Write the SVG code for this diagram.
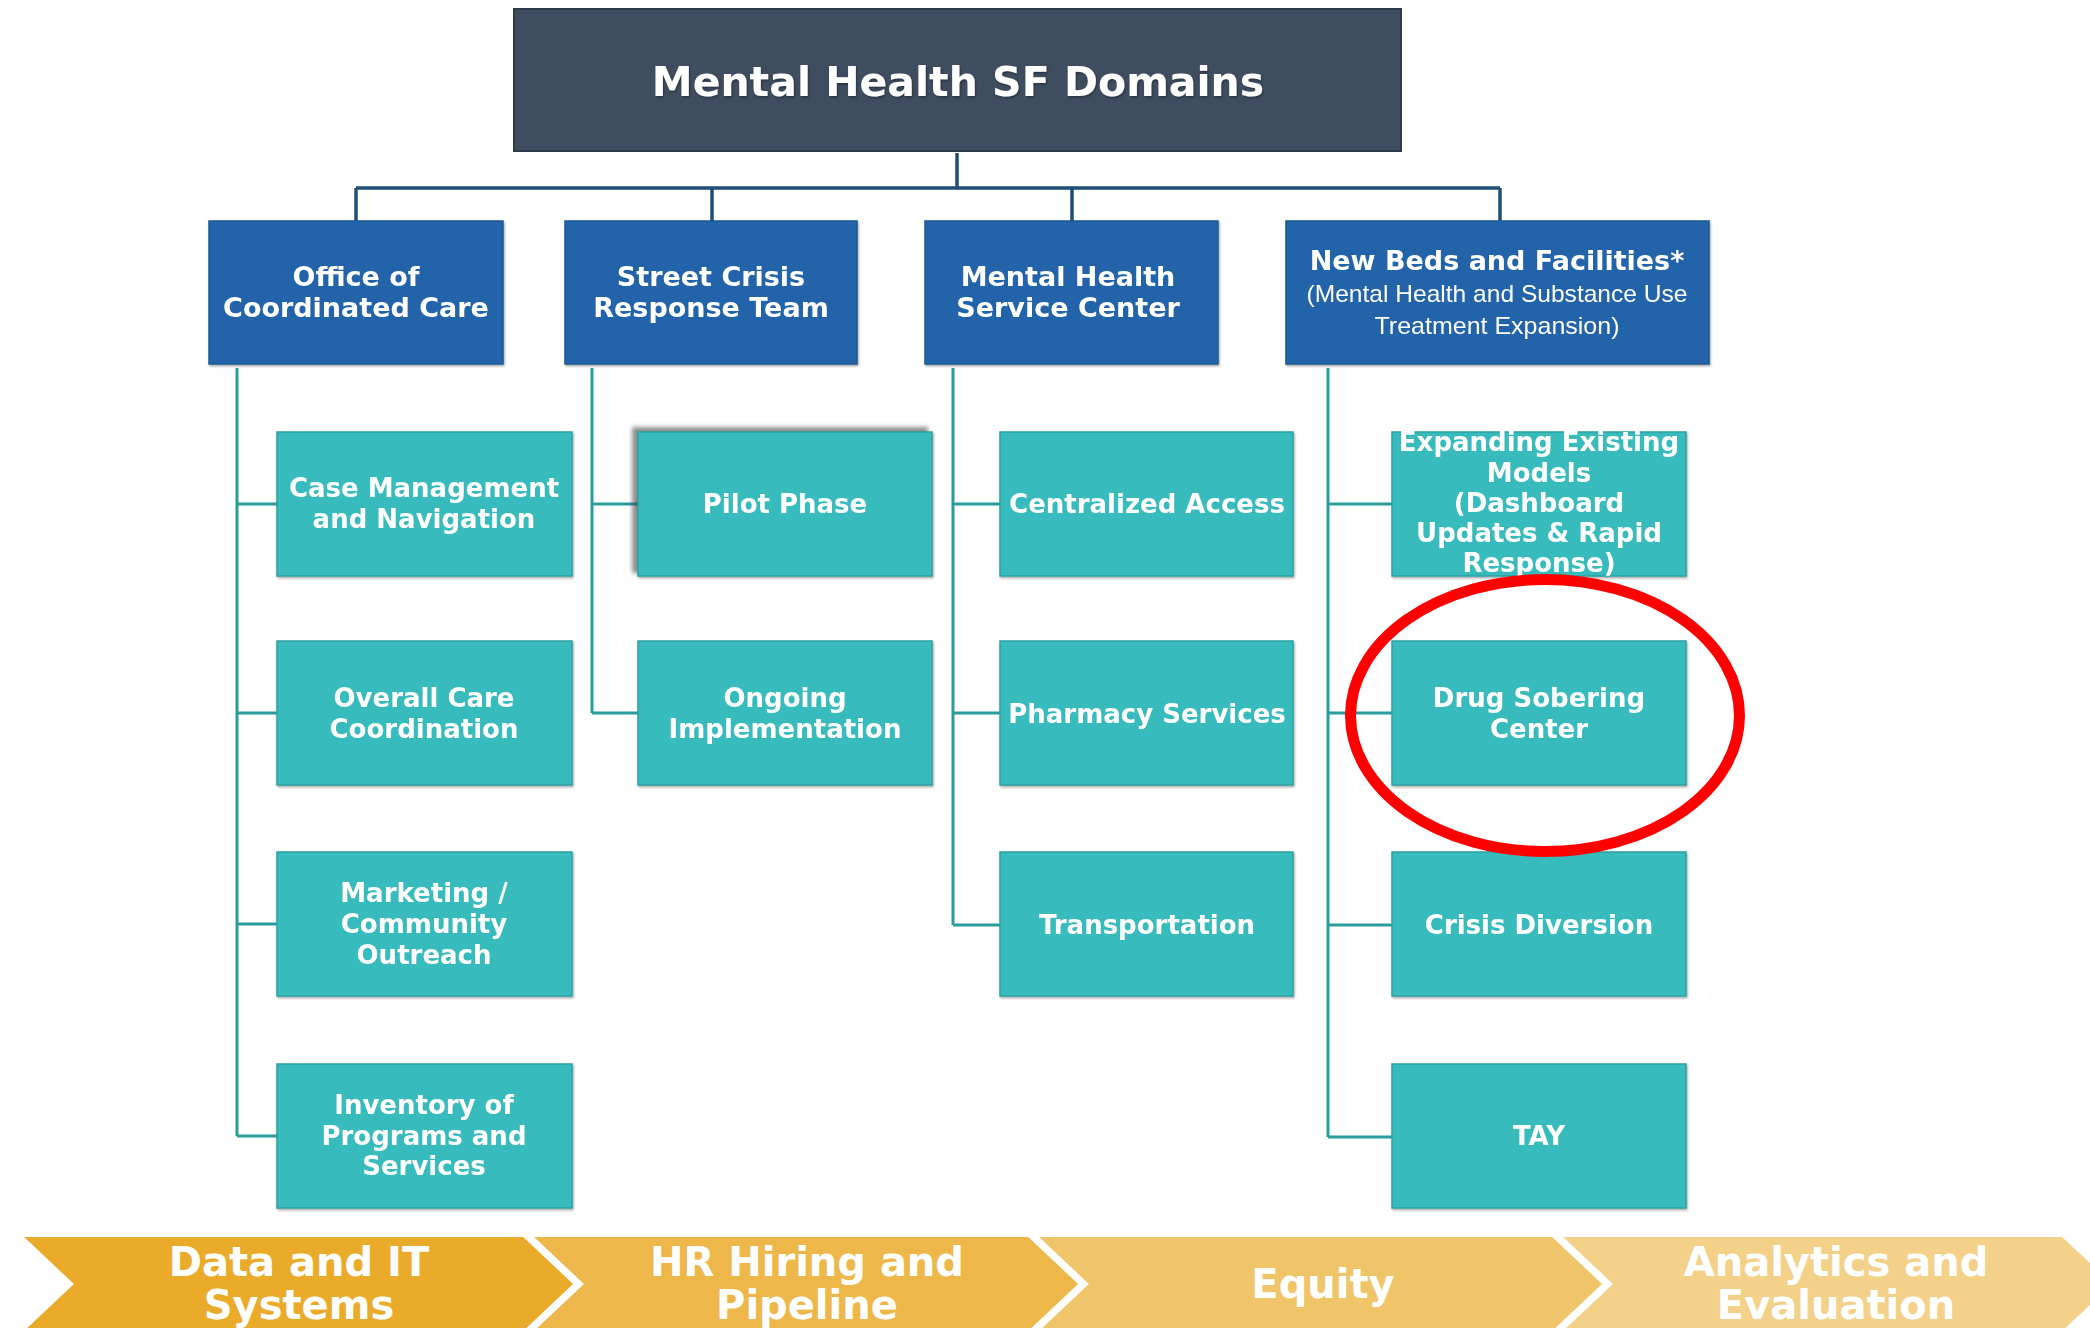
<svg xmlns="http://www.w3.org/2000/svg" width="2090" height="1328" viewBox="0 0 2090 1328">
<defs>
<style>
.tx{font-family:"DejaVu Sans",Verdana,sans-serif;font-weight:bold;fill:#ffffff;text-anchor:middle}
.t1{font-size:41px}
.t2{font-size:27px}
.t3{font-size:26px}
.tc{font-size:40px}
.sub{font-family:"Liberation Sans",Arial,sans-serif;font-size:24px;fill:#ffffff;text-anchor:middle}
.l2 rect{fill:#2064a9;stroke:#1b5893;stroke-width:1.5}
.l3 rect{fill:#38bbbc;stroke:#2da2a3;stroke-width:1.5}
.navy{stroke:#1f4e79;stroke-width:3.5;fill:none}
.teal{stroke:#2a9c9b;stroke-width:3;fill:none}
.chev{stroke:#ffffff;stroke-width:4}
</style>
<filter id="ts" x="-10%" y="-30%" width="120%" height="160%">
<feDropShadow dx="1" dy="1.5" stdDeviation="1" flood-color="#000000" flood-opacity="0.35"/>
</filter>
<filter id="bl" x="-10%" y="-10%" width="120%" height="120%">
<feGaussianBlur stdDeviation="2"/>
</filter>
</defs>
<rect width="2090" height="1328" fill="#ffffff"/>

<g id="connectors">
<path class="navy" d="M957 153V188M356 188H1500M356 188V221M712 188V221M1072 188V221M1500 188V221"/>
<path class="teal" d="M237 368V1136M237 504H277M237 713H277M237 924H277M237 1136H277"/>
<path class="teal" d="M592 368V713M592 504H638M592 713H638"/>
<path class="teal" d="M953 368V925M953 504H1000M953 713H1000M953 925H1000"/>
<path class="teal" d="M1328 368V1137M1328 504H1392M1328 713H1392M1328 925H1392M1328 1137H1392"/>
</g>

<g id="n-title">
<rect x="514" y="9" width="887" height="142" fill="#3e4d5f" stroke="#2c3845" stroke-width="2"/>
<text class="tx t1" x="958" y="96" filter="url(#ts)">Mental Health SF Domains</text>
</g>

<g class="l2" filter="url(#ts)">
<g id="n-occ"><rect x="209" y="221" width="294" height="143"/>
<text class="tx t2" x="356" y="286">Office of</text><text class="tx t2" x="356" y="317">Coordinated Care</text></g>
<g id="n-scrt"><rect x="565" y="221" width="292" height="143"/>
<text class="tx t2" x="711" y="286">Street Crisis</text><text class="tx t2" x="711" y="317">Response Team</text></g>
<g id="n-mhsc"><rect x="925" y="221" width="293" height="143"/>
<text class="tx t2" x="1068" y="286">Mental Health</text><text class="tx t2" x="1068" y="317">Service Center</text></g>
<g id="n-beds"><rect x="1286" y="221" width="423" height="143"/>
<text class="tx t2" x="1497" y="270">New Beds and Facilities*</text>
<text class="sub" x="1497" y="302" textLength="381" lengthAdjust="spacingAndGlyphs">(Mental Health and Substance Use</text>
<text class="sub" x="1497" y="334" textLength="245" lengthAdjust="spacingAndGlyphs">Treatment Expansion)</text></g>
</g>

<rect x="632" y="427" width="296" height="146" fill="#444" opacity="0.6" filter="url(#bl)"/>

<g class="l3" filter="url(#ts)">
<g id="n-case"><rect x="277" y="432" width="295" height="144"/>
<text class="tx t3" x="424" y="497">Case Management</text><text class="tx t3" x="424" y="528">and Navigation</text></g>
<g id="n-overall"><rect x="277" y="641" width="295" height="144"/>
<text class="tx t3" x="424" y="707">Overall  Care</text><text class="tx t3" x="424" y="738">Coordination</text></g>
<g id="n-marketing"><rect x="277" y="852" width="295" height="144"/>
<text class="tx t3" x="424" y="902">Marketing  /</text><text class="tx t3" x="424" y="933">Community</text><text class="tx t3" x="424" y="964">Outreach</text></g>
<g id="n-inventory"><rect x="277" y="1064" width="295" height="144"/>
<text class="tx t3" x="424" y="1114">Inventory of</text><text class="tx t3" x="424" y="1145">Programs and</text><text class="tx t3" x="424" y="1175">Services</text></g>

<g id="n-pilot"><rect x="638" y="432" width="294" height="144"/>
<text class="tx t3" x="785" y="513">Pilot  Phase</text></g>
<g id="n-ongoing"><rect x="638" y="641" width="294" height="144"/>
<text class="tx t3" x="785" y="707">Ongoing</text><text class="tx t3" x="785" y="738">Implementation</text></g>

<g id="n-central"><rect x="1000" y="432" width="293" height="144"/>
<text class="tx t3" x="1147" y="513">Centralized  Access</text></g>
<g id="n-pharmacy"><rect x="1000" y="641" width="293" height="144"/>
<text class="tx t3" x="1147" y="723">Pharmacy  Services</text></g>
<g id="n-transport"><rect x="1000" y="852" width="293" height="144"/>
<text class="tx t3" x="1147" y="934">Transportation</text></g>

<g id="n-expanding"><rect x="1392" y="432" width="294" height="144"/>
<text class="tx t3" x="1539" y="451">Expanding Existing</text><text class="tx t3" x="1539" y="482">Models</text><text class="tx t3" x="1539" y="512">(Dashboard</text><text class="tx t3" x="1539" y="542">Updates &amp; Rapid</text><text class="tx t3" x="1539" y="572">Response)</text></g>
<g id="n-drug"><rect x="1392" y="641" width="294" height="144"/>
<text class="tx t3" x="1539" y="707">Drug Sobering</text><text class="tx t3" x="1539" y="738">Center</text></g>
<g id="n-crisis"><rect x="1392" y="852" width="294" height="144"/>
<text class="tx t3" x="1539" y="934">Crisis Diversion</text></g>
<g id="n-tay"><rect x="1392" y="1064" width="294" height="144"/>
<text class="tx t3" x="1539" y="1145">TAY</text></g>
</g>

<g id="n-data"><polygon class="chev" fill="#ebab2a" points="19,1235 524,1235 576,1284 524,1333 19,1333 71,1284"/>
<text class="tx tc" x="299" y="1276">Data and IT</text><text class="tx tc" x="299" y="1319">Systems</text></g>
<g id="n-hr"><polygon class="chev" fill="#edb74a" points="529,1235 1029,1235 1081,1284 1029,1333 529,1333 581,1284"/>
<text class="tx tc" x="807" y="1276">HR Hiring and</text><text class="tx tc" x="807" y="1319">Pipeline</text></g>
<g id="n-equity"><polygon class="chev" fill="#f0c468" points="1034,1235 1553,1235 1605,1284 1553,1333 1034,1333 1086,1284"/>
<text class="tx tc" x="1323" y="1298">Equity</text></g>
<g id="n-analytics"><polygon class="chev" fill="#f3d189" points="1558,1235 2063,1235 2115,1284 2063,1333 1558,1333 1610,1284"/>
<text class="tx tc" x="1836" y="1276">Analytics and</text><text class="tx tc" x="1836" y="1319">Evaluation</text></g>

<ellipse id="highlight" cx="1545" cy="715.5" rx="194.5" ry="136" fill="none" stroke="#ff0000" stroke-width="11"/>
</svg>
